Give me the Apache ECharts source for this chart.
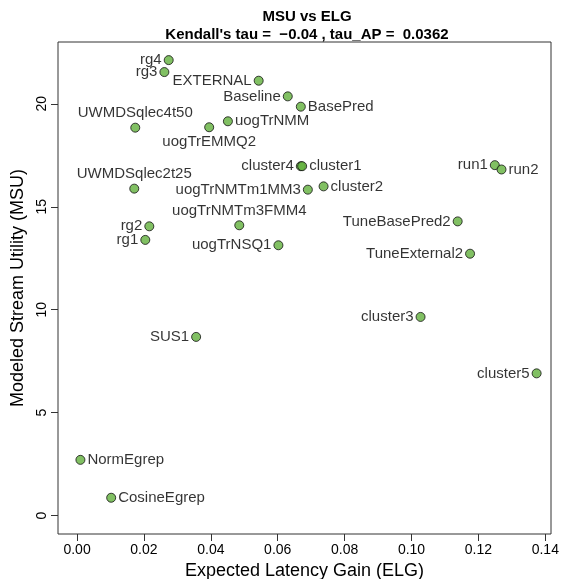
<!DOCTYPE html>
<html>
<head>
<meta charset="utf-8">
<script src="https://cdn.jsdelivr.net/npm/echarts@6/dist/echarts.min.js"></script>
<style>
  html, body { margin: 0; padding: 0; background: #fff; }
  #chart { width: 567px; height: 579px; }
</style>
</head>
<body>
<div id="chart"></div>
<script>
// data
var runNames = ['rg4', 'rg3', 'EXTERNAL', 'Baseline', 'BasePred', 'uogTrNMM', 'uogTrEMMQ2',
  'UWMDSqlec4t50', 'cluster4', 'cluster1', 'UWMDSqlec2t25', 'uogTrNMTm1MM3', 'cluster2',
  'run1', 'run2', 'uogTrNMTm3FMM4', 'rg2', 'rg1', 'uogTrNSQ1', 'TuneBasePred2',
  'TuneExternal2', 'cluster3', 'SUS1', 'cluster5', 'NormEgrep', 'CosineEgrep'];
var elg = [0.0274, 0.0261, 0.0543, 0.0630, 0.0669, 0.0451, 0.0395,
  0.0174, 0.0669, 0.0673, 0.0171, 0.0690, 0.0737,
  0.1249, 0.1269, 0.0485, 0.0216, 0.0204, 0.0602, 0.1138,
  0.1175, 0.1027, 0.0356, 0.1374, 0.0010, 0.0102];
var msu = [22.12, 21.54, 21.12, 20.36, 19.86, 19.15, 18.86,
  18.84, 16.97, 16.97, 15.88, 15.83, 15.99,
  17.02, 16.81, 14.10, 14.05, 13.39, 13.13, 14.29,
  12.72, 9.65, 8.68, 6.91, 2.71, 0.87];
var xTicks = [0, 0.02, 0.04, 0.06, 0.08, 0.10, 0.12, 0.14];
var yTicks = [0, 5, 10, 15, 20];

// where each text sits relative to its point (style, not data)
var labelSide = {
  BasePred: 'right', uogTrNMM: 'right', cluster1: 'right', cluster2: 'right',
  run2: 'right', NormEgrep: 'right', CosineEgrep: 'right',
  uogTrEMMQ2: 'bottom',
  UWMDSqlec4t50: 'top', UWMDSqlec2t25: 'top', uogTrNMTm3FMM4: 'top'
};

var FONT = '"Liberation Sans", Arial, Helvetica, sans-serif';

var points = [];
for (var i = 0; i < runNames.length; i++) {
  points.push({
    name: runNames[i],
    value: [elg[i], msu[i]],
    label: { position: labelSide[runNames[i]] || 'left' }
  });
}

var chart = echarts.init(document.getElementById('chart'));
var option = {
  animation: false,
  title: {
    text: 'MSU vs ELG\nKendall\'s tau =  \u22120.04 , tau_AP =  0.0362',
    left: 302,
    top: 3,
    textAlign: 'center',
    textStyle: { fontFamily: FONT, fontSize: 15, fontWeight: 'bold', color: '#000', lineHeight: 18 }
  },
  grid: {
    left: 58, right: 16, top: 42, bottom: 45,
    outerBoundsMode: 'none',
    containLabel: false,
    show: true, borderColor: '#333', borderWidth: 1, backgroundColor: '#fff'
  },
  xAxis: {
    type: 'value',
    min: -0.0057, max: 0.1417,
    name: 'Expected Latency Gain (ELG)',
    nameLocation: 'middle',
    nameGap: 24,
    nameTextStyle: { fontFamily: FONT, fontSize: 18, color: '#000' },
    splitLine: { show: false },
    axisLine: { show: false, onZero: false },
    axisTick: { show: true, inside: false, length: 7, customValues: xTicks, lineStyle: { color: '#333' } },
    axisLabel: {
      customValues: xTicks, margin: 9,
      fontFamily: FONT, fontSize: 14, color: '#000',
      formatter: function (v) { return v.toFixed(2); }
    }
  },
  yAxis: {
    type: 'value',
    min: -0.89, max: 23,
    name: 'Modeled Stream Utility (MSU)',
    nameLocation: 'middle',
    nameGap: 27,
    nameRotate: 90,
    nameTextStyle: { fontFamily: FONT, fontSize: 18, color: '#000' },
    splitLine: { show: false },
    axisLine: { show: false, onZero: false },
    axisTick: { show: true, inside: false, length: 7, customValues: yTicks, lineStyle: { color: '#333' } },
    axisLabel: {
      customValues: yTicks, margin: 9, rotate: 90,
      fontFamily: FONT, fontSize: 14, color: '#000'
    }
  },
  series: [{
    type: 'scatter',
    symbol: 'circle',
    symbolSize: 9,
    itemStyle: { color: '#62b03c', borderColor: '#111', borderWidth: 1 },
    label: {
      show: true,
      formatter: '{b}',
      distance: 2,
      fontFamily: FONT, fontSize: 15, color: '#000'
    },
    labelLayout: { hideOverlap: false },
    data: points
  }]
};
chart.setOption(option);
</script>
</body>
</html>
